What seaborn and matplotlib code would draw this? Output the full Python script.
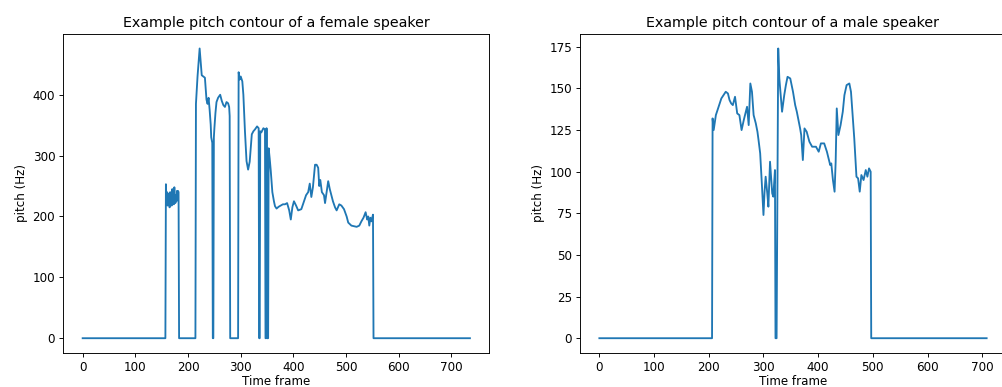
import matplotlib
matplotlib.use("Agg")
import matplotlib.pyplot as plt
import seaborn as sns

# ---- Female speaker pitch contour (frame, Hz) keyframes ----
female_frames = [0, 157, 158, 159, 160, 161, 162, 163, 164, 165, 166, 167, 168, 169, 170,
                 171, 172, 173, 174, 175, 176, 177, 178, 179, 180, 181, 182, 183,
                 214, 215, 218, 222, 226, 229, 232, 234, 235, 237, 239, 241, 243, 244, 246,
                 247, 248, 249, 250, 252, 254, 257, 261, 264, 267, 270, 273, 276, 278, 279,
                 280, 295, 296, 298, 300, 303, 305, 308, 311, 314, 317, 321, 324, 327, 331,
                 334, 335, 336, 337, 339, 343, 346, 347, 348, 349, 350, 352, 353,
                 355, 357, 360, 363, 365, 368, 372, 376, 380, 384, 388, 392, 395, 398, 401,
                 405, 409, 415, 420, 424, 428, 431, 434, 437, 441, 444, 447, 449, 451, 454,
                 458, 460, 463, 466, 469, 472, 475, 479, 482, 487, 491, 496, 501, 504, 510,
                 515, 520, 525, 529, 533, 537, 540, 542, 544, 546, 548, 551, 552, 553, 735]
female_pitch = [0, 0, 253, 225, 240, 218, 238, 222, 232, 215, 240, 222, 235, 218, 245,
                225, 230, 220, 248, 228, 222, 235, 225, 242, 230, 242, 240, 0,
                0, 385, 430, 476, 432, 430, 428, 405, 392, 385, 395, 375, 351, 330, 321,
                0, 0, 330, 345, 370, 388, 395, 400, 390, 383, 380, 388, 386, 380, 365,
                0, 0, 437, 425, 430, 422, 400, 340, 291, 277, 290, 335, 340, 343, 348,
                345, 0, 0, 340, 338, 345, 343, 0, 0, 345, 0, 0, 312,
                295, 275, 240, 225, 217, 213, 216, 218, 220, 220, 222, 210, 195, 215, 225,
                218, 210, 212, 225, 235, 240, 254, 232, 248, 285, 285, 280, 250, 260, 240,
                235, 222, 240, 258, 245, 235, 225, 215, 210, 220, 218, 212, 200, 190, 185,
                184, 183, 185, 192, 198, 207, 195, 200, 185, 198, 192, 203, 0, 0, 0]

# ---- Male speaker pitch contour (frame, Hz) keyframes ----
male_frames = [0, 206, 207, 209, 213, 217, 220, 223, 227, 231, 235, 238, 241, 244, 248,
               252, 256, 260, 264, 267, 270, 273, 276, 279, 282, 286, 289, 291, 294, 297,
               300, 302, 304, 307, 309, 312, 316, 318, 321, 322, 324, 327, 329, 331, 334,
               338, 341, 344, 349, 354, 358, 361, 364, 367, 369, 372, 375, 379, 384, 389,
               396, 401, 405, 411, 416, 419, 422, 424, 427, 430, 432, 434, 437, 441, 445,
               448, 452, 457, 460, 463, 466, 470, 473, 476, 479, 483, 487, 490, 493, 496,
               497, 708]
male_pitch = [0, 0, 132, 125, 134, 138, 141, 144, 146, 148, 147, 143, 141, 140, 145,
              135, 134, 125, 131, 135, 139, 128, 153, 148, 134, 129, 124, 119, 111, 93,
              74, 88, 97, 87, 79, 106, 87, 85, 101, 0, 0, 174, 156, 148, 136,
              146, 152, 157, 156, 148, 140, 136, 131, 126, 122, 107, 126, 124, 118, 115,
              115, 112, 117, 117, 112, 108, 104, 105, 95, 88, 106, 138, 122, 128, 136,
              146, 152, 153, 148, 134, 120, 97, 96, 88, 98, 95, 101, 97, 102, 100,
              0, 0]

titles = ["Example pitch contour of a female speaker",
          "Example pitch contour of a male speaker"]
x_label = "Time frame"
y_label = "pitch (Hz)"

W, H, DPI = 1003, 387, 83
plt.rcParams["font.size"] = 10.3
plt.rcParams["axes.titlesize"] = 12.4
fig = plt.figure(figsize=(W / DPI, H / DPI), dpi=DPI)

bottom = 1 - 352.7 / H
height = (352.7 - 34) / H
ax1 = fig.add_axes([63.3 / W, bottom, 426 / W, height])
ax2 = fig.add_axes([580 / W, bottom, 426 / W, height])

for ax, xs, ys, title in [(ax1, female_frames, female_pitch, titles[0]),
                          (ax2, male_frames, male_pitch, titles[1])]:
    sns.lineplot(x=xs, y=ys, ax=ax, estimator=None, sort=False, color="#1f77b4",
                 linewidth=1.6)
    ax.set_title(title)
    ax.set_xlabel(x_label, labelpad=1.5)
    ax.set_ylabel(y_label)

ax1.set_xticks([0, 100, 200, 300, 400, 500, 600, 700])
ax2.set_xticks([0, 100, 200, 300, 400, 500, 600, 700])
ax2.set_yticks([0, 25, 50, 75, 100, 125, 150, 175])

fig.savefig("out.png", dpi=DPI)
